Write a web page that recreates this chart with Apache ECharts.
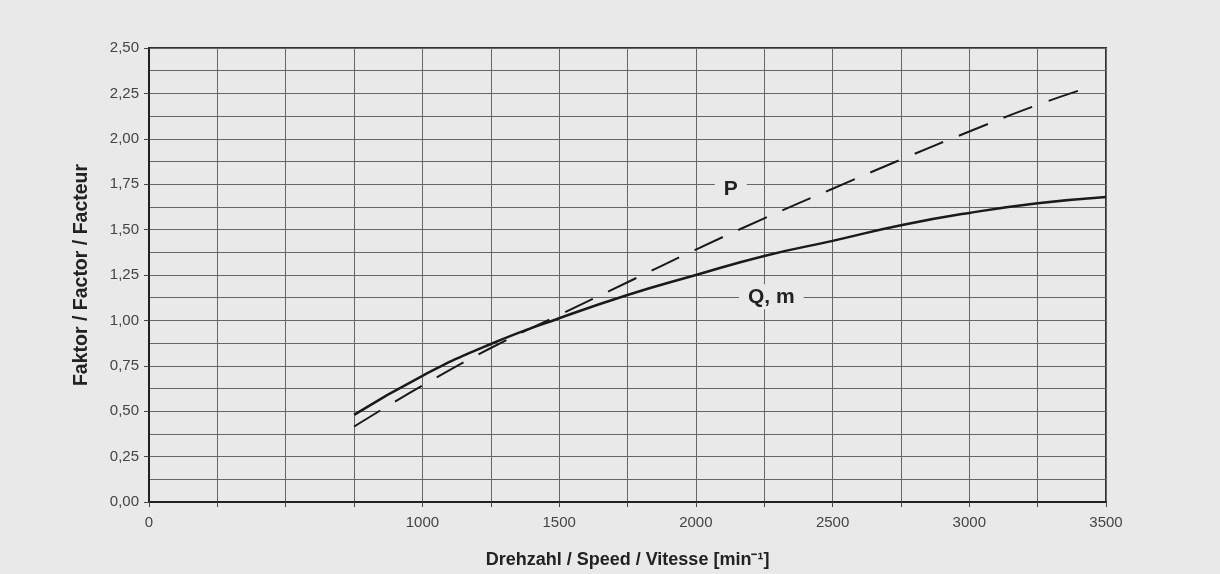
<!DOCTYPE html>
<html>
<head>
<meta charset="utf-8">
<script src="https://cdn.jsdelivr.net/npm/echarts@6/dist/echarts.min.js"></script>
<style>
  html, body { margin: 0; padding: 0; background: #e9e9e9; }
  #chart { width: 1220px; height: 574px; }
</style>
</head>
<body>
<div id="chart"></div>
<script>
// speed in min-1, factors relative to 1500 min-1
const qmSpeeds = [750, 1000, 1250, 1500, 1750, 2000, 2250, 2500, 2750, 3000, 3250, 3500];
const qmFactor = [0.48, 0.695, 0.87, 1.012, 1.14, 1.25, 1.355, 1.438, 1.524, 1.592, 1.645, 1.68];
const pSpeeds = [750, 1000, 1250, 1500, 1750, 2000, 2250, 2500, 2750, 3000, 3250, 3457];
const pFactor = [0.415, 0.641, 0.848, 1.03, 1.21, 1.39, 1.562, 1.725, 1.886, 2.04, 2.187, 2.293];

const xLabels = [0, 1000, 1500, 2000, 2500, 3000, 3500];
const pLabelAt = [2128, 1.72];
const qmLabelAt = [2276, 1.13];

const font = "'Liberation Sans', Arial, sans-serif";
const bg = '#e9e9e9';

function pairs(xs, ys) {
  return xs.map((x, i) => [x, ys[i]]);
}

const labelStyle = {
  show: true,
  fontFamily: font,
  fontWeight: 'bold',
  fontSize: 21,
  color: '#222',
  backgroundColor: bg,
  padding: [2, 9],
  position: 'inside'
};

const chart = echarts.init(document.getElementById('chart'));
chart.setOption({
  backgroundColor: bg,
  animation: false,
  grid: {
    left: 149, right: 114, top: 48, bottom: 70,
    show: true, borderColor: '#333', borderWidth: 2
  },
  xAxis: {
    type: 'value',
    min: 0, max: 3500, interval: 250,
    name: 'Drehzahl / Speed / Vitesse [min⁻¹]',
    nameLocation: 'middle',
    nameGap: 49,
    nameTextStyle: { fontFamily: font, fontWeight: 'bold', fontSize: 18, color: '#222' },
    axisLine: { lineStyle: { color: '#222', width: 2 } },
    axisTick: { show: true, length: 5, lineStyle: { color: '#444' } },
    axisLabel: {
      margin: 13,
      fontFamily: font, fontSize: 15, color: '#444',
      formatter: v => xLabels.includes(v) ? String(v) : ''
    },
    splitLine: { show: true, lineStyle: { color: '#666', width: 1 } }
  },
  yAxis: {
    type: 'value',
    min: 0, max: 2.5, interval: 0.25,
    name: 'Faktor / Factor / Facteur',
    nameLocation: 'middle',
    nameGap: 57,
    nameTextStyle: { fontFamily: font, fontWeight: 'bold', fontSize: 19.5, color: '#222' },
    axisLine: { show: true, lineStyle: { color: '#222', width: 2 } },
    axisTick: { show: true, length: 5, lineStyle: { color: '#444' } },
    axisLabel: {
      margin: 10,
      fontFamily: font, fontSize: 15, color: '#444',
      formatter: v => v.toFixed(2).replace('.', ',')
    },
    splitLine: { show: true, lineStyle: { color: '#666', width: 1 } },
    minorTick: { show: false, splitNumber: 2 },
    minorSplitLine: { show: true, lineStyle: { color: '#666', width: 1 } }
  },
  series: [
    {
      name: 'Q, m',
      type: 'line',
      smooth: true,
      symbol: 'none',
      data: pairs(qmSpeeds, qmFactor),
      lineStyle: { color: '#1a1a1a', width: 2.5 },
      z: 3,
      markPoint: {
        symbol: 'rect', symbolSize: 1,
        itemStyle: { color: 'rgba(0,0,0,0)' },
        label: Object.assign({}, labelStyle, { formatter: 'Q, m' }),
        data: [{ coord: qmLabelAt }]
      }
    },
    {
      name: 'P',
      type: 'line',
      smooth: true,
      symbol: 'none',
      data: pairs(pSpeeds, pFactor),
      lineStyle: { color: '#1a1a1a', width: 2, type: [31, 17] },
      z: 3,
      markPoint: {
        symbol: 'rect', symbolSize: 1,
        itemStyle: { color: 'rgba(0,0,0,0)' },
        label: Object.assign({}, labelStyle, { formatter: 'P' }),
        data: [{ coord: pLabelAt }]
      }
    }
  ]
});
</script>
</body>
</html>
